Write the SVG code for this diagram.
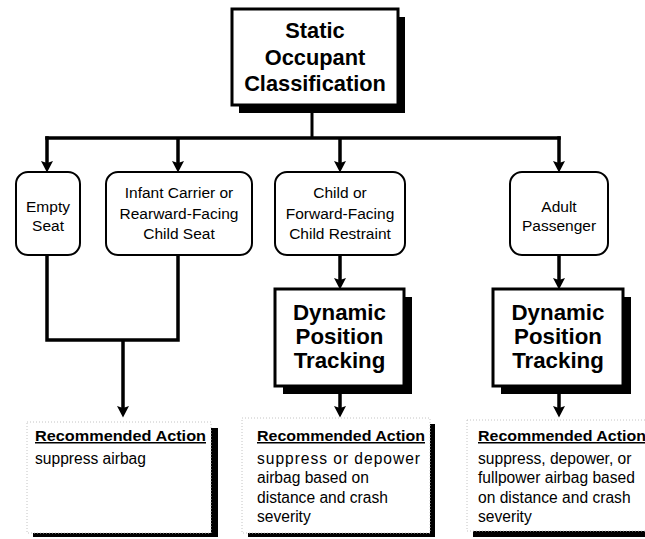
<svg xmlns="http://www.w3.org/2000/svg" width="645" height="539" viewBox="0 0 645 539">
<defs>
<marker id="ah" viewBox="0 0 13 13" refX="5" refY="6.5" markerWidth="13" markerHeight="13" markerUnits="userSpaceOnUse" orient="auto">
<path d="M0,0.5 L11.5,6.5 L0,12.5 L2,6.5 z" fill="#000"/>
</marker>
<style>
text{font-family:"Liberation Sans",Arial,Helvetica,sans-serif;fill:#000}
.big{font-size:21.8px;font-weight:bold;text-anchor:middle}
.dyn{font-size:22.3px;font-weight:bold;text-anchor:middle}
.sm{font-size:15.5px;text-anchor:middle}
.hd{font-size:15px;font-weight:bold;text-decoration:underline}
.bd{font-size:15.6px}
.sq{fill:#fff;stroke:#000;stroke-width:3}
.rd{fill:#fff;stroke:#000;stroke-width:2}
.sh{fill:#000}
.rec{fill:#fff;stroke:#c4c4c4;stroke-width:1;stroke-dasharray:1 2}
.ln{fill:none;stroke:#000;stroke-width:3.5}
.ar{fill:none;stroke:#000;stroke-width:3.5;marker-end:url(#ah)}
</style>
</defs>
<rect width="645" height="539" fill="#fff"/>

<g id="connectors">
<line x1="312" y1="113" x2="312" y2="138" stroke="#000" stroke-width="3"/>
<line class="ln" x1="45.25" y1="138" x2="560.75" y2="138"/>
<line class="ar" x1="47" y1="136.25" x2="47" y2="166"/>
<line class="ar" x1="178" y1="138" x2="178" y2="166"/>
<line class="ar" x1="340" y1="138" x2="340" y2="166"/>
<line class="ar" x1="559" y1="136.25" x2="559" y2="166"/>
<path class="ln" d="M47,255 V340 H178 V255"/>
<line class="ar" x1="123" y1="340" x2="123" y2="411"/>
<line class="ar" x1="340" y1="255" x2="340" y2="283"/>
<line class="ar" x1="559" y1="255" x2="559" y2="283"/>
<line class="ar" x1="340" y1="394" x2="340" y2="411"/>
<line class="ar" x1="559" y1="394" x2="559" y2="411"/>
</g>

<g id="static-classification">
<rect class="sh" x="239" y="17" width="166" height="96"/>
<rect class="sq" x="232" y="9" width="166" height="96"/>
<text class="big" x="315" y="38">Static</text>
<text class="big" x="315" y="64.5">Occupant</text>
<text class="big" x="315" y="91">Classification</text>
</g>

<g id="empty-seat">
<rect class="rd" x="16" y="172" width="64" height="83" rx="12"/>
<text class="sm" x="48" y="212">Empty</text>
<text class="sm" x="48" y="231">Seat</text>
</g>

<g id="infant-carrier">
<rect class="rd" x="106" y="172" width="146" height="83" rx="12"/>
<text class="sm" x="179" y="198">Infant Carrier or</text>
<text class="sm" x="179" y="219">Rearward-Facing</text>
<text class="sm" x="179" y="239">Child Seat</text>
</g>

<g id="child-restraint">
<rect class="rd" x="275" y="172" width="130" height="83" rx="12"/>
<text class="sm" x="340" y="198">Child or</text>
<text class="sm" x="340" y="219">Forward-Facing</text>
<text class="sm" x="340" y="239">Child Restraint</text>
</g>

<g id="adult-passenger">
<rect class="rd" x="510" y="172" width="98" height="83" rx="12"/>
<text class="sm" x="559" y="212">Adult</text>
<text class="sm" x="559" y="231">Passenger</text>
</g>

<g id="dynamic-child">
<rect class="sh" x="283" y="297" width="129" height="97"/>
<rect class="sq" x="275" y="289" width="129" height="97"/>
<text class="dyn" x="339.5" y="320">Dynamic</text>
<text class="dyn" x="339.5" y="344">Position</text>
<text class="dyn" x="339.5" y="368">Tracking</text>
</g>

<g id="dynamic-adult">
<rect class="sh" x="501" y="297" width="130" height="97"/>
<rect class="sq" x="493" y="289" width="130" height="97"/>
<text class="dyn" x="558" y="320">Dynamic</text>
<text class="dyn" x="558" y="344">Position</text>
<text class="dyn" x="558" y="368">Tracking</text>
</g>

<g id="action-suppress">
<rect class="sh" x="33" y="428" width="185" height="109"/>
<rect class="rec" x="27" y="422" width="184" height="111"/>
<text class="hd" x="35" y="441" textLength="171" lengthAdjust="spacingAndGlyphs">Recommended Action</text>
<text class="bd" x="35" y="463.5">suppress airbag</text>
</g>

<g id="action-depower">
<rect class="sh" x="248" y="424" width="187" height="113"/>
<rect class="rec" x="242" y="418" width="188" height="115"/>
<text class="hd" x="257" y="441" textLength="168" lengthAdjust="spacingAndGlyphs">Recommended Action</text>
<text class="bd" x="257" y="463.5" textLength="163" lengthAdjust="spacing">suppress or depower</text>
<text class="bd" x="257" y="483">airbag based on</text>
<text class="bd" x="257" y="502.5">distance and crash</text>
<text class="bd" x="257" y="522">severity</text>
</g>

<g id="action-fullpower">
<rect class="sh" x="473" y="426" width="185" height="111"/>
<rect class="rec" x="467" y="420" width="185" height="111"/>
<text class="hd" x="478" y="441" textLength="168" lengthAdjust="spacingAndGlyphs">Recommended Action</text>
<text class="bd" x="478" y="463.5">suppress, depower, or</text>
<text class="bd" x="478" y="483">fullpower airbag based</text>
<text class="bd" x="478" y="502.5">on distance and crash</text>
<text class="bd" x="478" y="522">severity</text>
</g>
</svg>
